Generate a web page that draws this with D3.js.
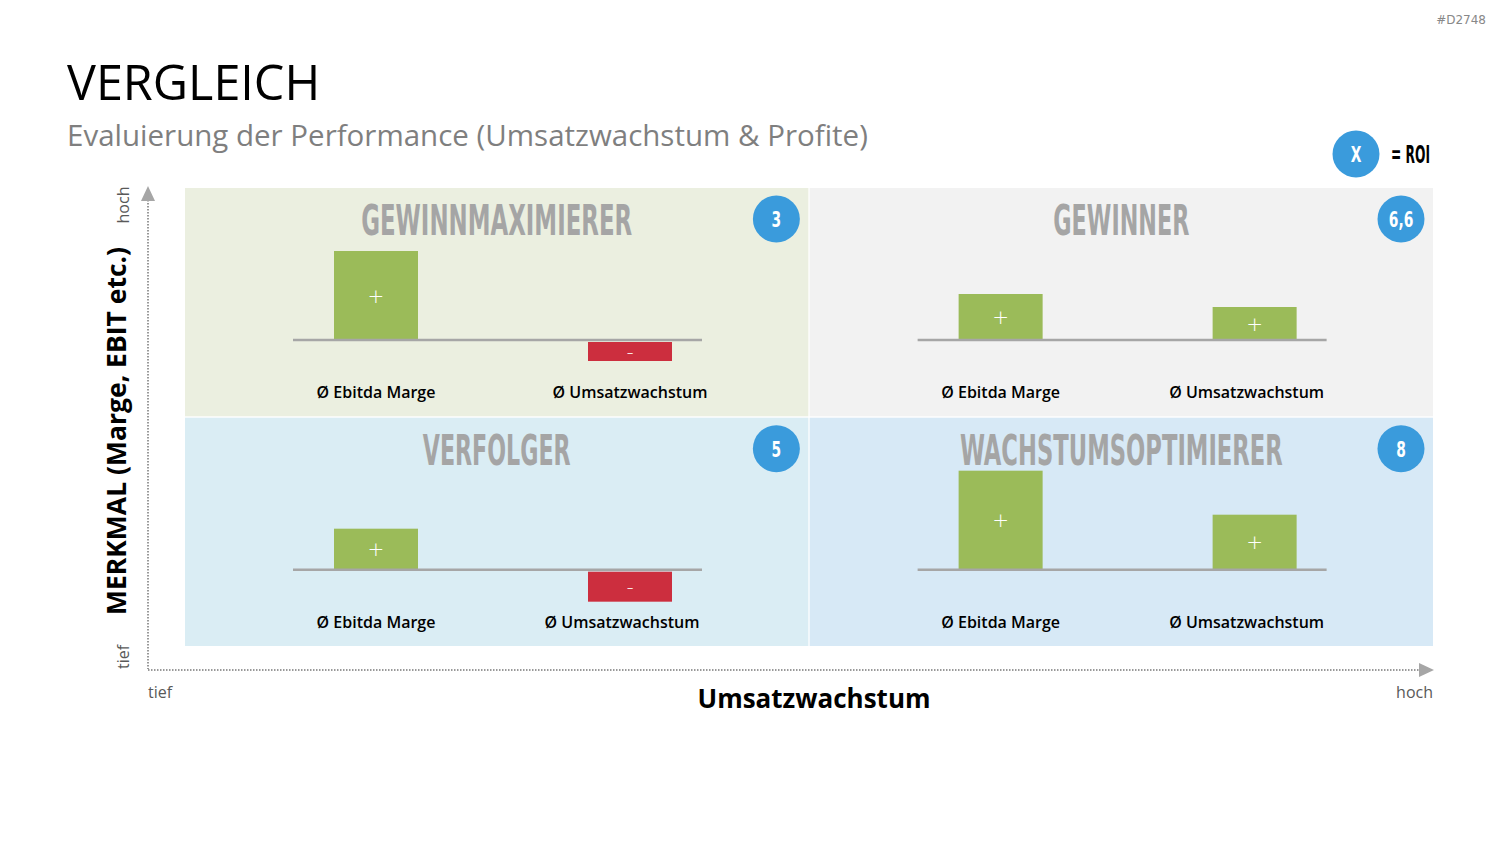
<!DOCTYPE html>
<html><head><meta charset="utf-8">
<script src="https://cdn.jsdelivr.net/npm/d3@7"></script>
<style>
html,body{margin:0;padding:0;background:#fff;}
svg{display:block;}
</style></head>
<body>
<svg id="chart" width="1500" height="844"></svg>
<script>
// ---- data ----
const quadrantNames = ["GEWINNMAXIMIERER", "GEWINNER", "VERFOLGER", "WACHSTUMSOPTIMIERER"];
const quadrantCols = ["tief", "hoch", "tief", "hoch"];
const quadrantRows = ["hoch", "hoch", "tief", "tief"];
const roiValues = ["3", "6,6", "5", "8"];
const metrics = ["Ø Ebitda Marge", "Ø Umsatzwachstum"];
const ebitdaValues = [89, 46, 41, 99];
const umsatzValues = [-19, 33, -30, 55];
const axisLevels = ["tief", "hoch"];

const svg = d3.select("#chart");
const font = "'Open Sans', sans-serif";
const condensed = "'Liberation Sans Narrow', 'DejaVu Sans Condensed', 'Liberation Sans', sans-serif";
const bgColors = ["#ebefe0", "#f2f2f2", "#daedf4", "#d7e9f6"];
const labelShift = [[0, 0], [0, -8], [0, -8], [0, -8]];

// header
svg.append("text").attr("x", 67).attr("y", 100).attr("font-family", font)
  .attr("font-size", 48.5).attr("fill", "#000").text("VERGLEICH");
svg.append("text").attr("x", 67).attr("y", 146).attr("font-family", font)
  .attr("font-size", 29.5).attr("fill", "#7f7f7f").text("Evaluierung der Performance (Umsatzwachstum & Profite)");
svg.append("text").attr("x", 1486).attr("y", 24).attr("text-anchor", "end").attr("font-family", "'DejaVu Sans', sans-serif")
  .attr("font-size", 12).attr("fill", "#888").text("#D2748");

function circleLabel(parent, cx, cy, txt) {
  parent.append("circle").attr("cx", cx).attr("cy", cy).attr("r", 23.5).attr("fill", "#3a9bdc");
  parent.append("text").attr("transform", `translate(${cx},${cy + 8}) scale(0.7,1)`)
    .attr("text-anchor", "middle").attr("font-family", condensed).attr("font-weight", "bold")
    .attr("font-size", 22).attr("fill", "#fff").text(txt);
}

// narrow text fitted to a target width by horizontal scaling
function fittedText(parent, cx, y, txt, width, size, color) {
  const t = parent.append("text").attr("text-anchor", "middle")
    .attr("font-family", condensed).attr("font-weight", "bold").attr("font-size", size)
    .attr("fill", color).text(txt);
  const natural = t.node().getComputedTextLength();
  t.attr("transform", `translate(${cx},${y}) scale(${width / natural},1)`);
  return t;
}

// legend
circleLabel(svg, 1356, 154, "X");
fittedText(svg, 1410.5, 163, "= ROI", 39, 24, "#000");

// scales
const xQ = d3.scaleBand().domain(axisLevels).range([185, 1433]).paddingInner(0.002);
const yQ = d3.scaleBand().domain(["hoch", "tief"]).range([188, 646]).paddingInner(0.006);
const qW = xQ.bandwidth(), qH = yQ.bandwidth();
const xM = d3.scalePoint().domain(metrics).range([191, 445]);
const yV = d3.scaleLinear().domain([-100, 100]).range([100, -100]); // offset from baseline
const baseY = 152;
const barW = 84;

const titleWidths = {"GEWINNMAXIMIERER": 271, "GEWINNER": 136, "VERFOLGER": 148, "WACHSTUMSOPTIMIERER": 323};

quadrantNames.forEach((name, i) => {
  const g = svg.append("g").attr("transform", `translate(${xQ(quadrantCols[i])},${yQ(quadrantRows[i])})`);
  g.append("rect").attr("width", qW).attr("height", qH).attr("fill", bgColors[i]);
  fittedText(g, qW / 2, 47, name, titleWidths[name], 42, "#a5a5a5");
  circleLabel(g, qW - 32, 31, roiValues[i]);

  const vals = [ebitdaValues[i], umsatzValues[i]];
  const bars = g.append("g").attr("transform", `translate(0,${baseY})`);
  bars.selectAll("rect").data(vals).join("rect")
    .attr("x", (d, j) => xM(metrics[j]) - barW / 2)
    .attr("y", d => d >= 0 ? yV(d) : yV(0) + 2)
    .attr("width", barW)
    .attr("height", d => Math.abs(yV(d) - yV(0)))
    .attr("fill", d => d >= 0 ? "#9bbb59" : "#cc2e3e");
  bars.selectAll("text.sign").data(vals).join("text").attr("class", "sign")
    .attr("x", (d, j) => xM(metrics[j]))
    .attr("y", d => (d >= 0 ? (yV(d) + yV(0)) / 2 : (yV(0) + 2 + yV(d) + 2) / 2) + 7)
    .attr("text-anchor", "middle").attr("font-family", "'DejaVu Sans', sans-serif")
    .attr("font-size", 20).attr("font-weight", 300).attr("fill", "#fff")
    .text(d => d >= 0 ? "+" : "-");
  bars.append("line").attr("x1", 108).attr("x2", 517).attr("y1", 0).attr("y2", 0)
    .attr("stroke", "#a6a6a6").attr("stroke-width", 2.5);
  g.selectAll("text.metric").data(metrics).join("text").attr("class", "metric")
    .attr("x", (d, j) => xM(d) + labelShift[i][j]).attr("y", 210).attr("text-anchor", "middle")
    .attr("font-family", font).attr("font-weight", 600).attr("font-size", 16).attr("fill", "#000")
    .text(d => d);
});

// axes
svg.append("line").attr("x1", 148).attr("x2", 148).attr("y1", 200).attr("y2", 669)
  .attr("stroke", "#999").attr("stroke-width", 2).attr("stroke-dasharray", "1.5,1.5");
svg.append("path").attr("d", "M148,186 L141,201 L155,201 Z").attr("fill", "#a6a6a6");
svg.append("line").attr("x1", 148).attr("x2", 1420).attr("y1", 670).attr("y2", 670)
  .attr("stroke", "#999").attr("stroke-width", 2).attr("stroke-dasharray", "1.5,1.5");
svg.append("path").attr("d", "M1434,670 L1419,663 L1419,677 Z").attr("fill", "#a6a6a6");

svg.append("text").attr("transform", "translate(129,205) rotate(-90)").attr("text-anchor", "middle")
  .attr("font-family", font).attr("font-size", 16).attr("fill", "#595959").text(axisLevels[1]);
svg.append("text").attr("transform", "translate(129,657) rotate(-90)").attr("text-anchor", "middle")
  .attr("font-family", font).attr("font-size", 16).attr("fill", "#595959").text(axisLevels[0]);
svg.append("text").attr("transform", "translate(126,431) rotate(-90)").attr("text-anchor", "middle")
  .attr("font-family", font).attr("font-weight", "bold").attr("font-size", 26.5).attr("fill", "#000")
  .text("MERKMAL (Marge, EBIT etc.)");

svg.append("text").attr("x", 148).attr("y", 698).attr("font-family", font).attr("font-size", 16)
  .attr("fill", "#595959").text(axisLevels[0]);
svg.append("text").attr("x", 1433).attr("y", 698).attr("text-anchor", "end").attr("font-family", font).attr("font-size", 16)
  .attr("fill", "#595959").text(axisLevels[1]);
svg.append("text").attr("x", 814).attr("y", 708).attr("text-anchor", "middle").attr("font-family", font)
  .attr("font-weight", "bold").attr("font-size", 26).attr("fill", "#000").text("Umsatzwachstum");
</script>
</body></html>
